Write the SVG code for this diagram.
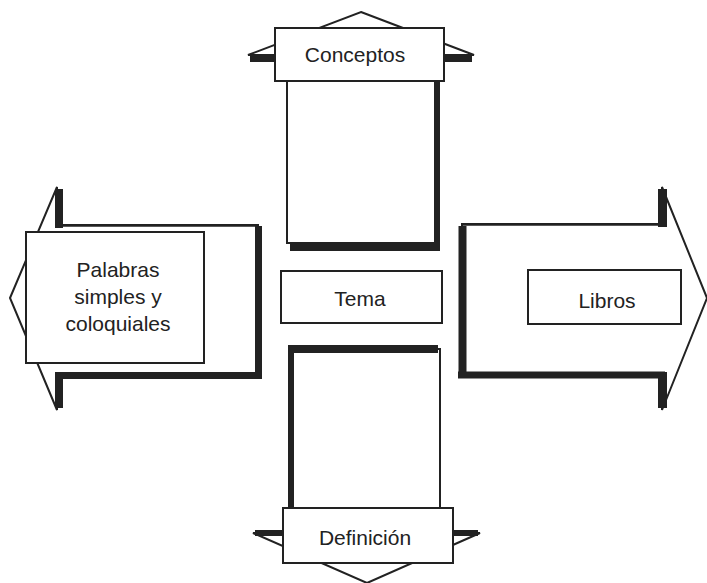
<svg xmlns="http://www.w3.org/2000/svg" width="707" height="583" viewBox="0 0 707 583">
<style>
.outline{fill:#fff;stroke:#222;stroke-width:2;stroke-linejoin:miter}
.thick{fill:none;stroke:#222;stroke-linecap:butt}
.box{fill:#fff;stroke:#222;stroke-width:2}
.lbl{font-family:"Liberation Sans",Arial,sans-serif;font-size:21px;fill:#222;text-anchor:middle}
</style>
<rect width="707" height="583" fill="#fff"/>
<g id="connectors">
  <g id="arrow-up">
    <path class="outline" d="M361,12 L474,55 L437,55 L437,243 L287,243 L287,55 L248,55 Z"/>
    <path class="thick" stroke-width="7" d="M250,58.5 H287 M437,58.5 H472"/>
    <path class="thick" stroke-width="6" d="M437,55 V251"/>
    <path class="thick" stroke-width="8" d="M290,247 H440"/>
  </g>
  <g id="arrow-left">
    <path class="outline" d="M10,298 L57,187 L57,225 L258,225 L258,375 L57,375 L57,410 Z"/>
    <path class="thick" stroke-width="2.5" d="M59,225.5 H258"/>
    <path class="thick" stroke-width="8" d="M59,189 V228 M59,372 V408"/>
    <path class="thick" stroke-width="7" d="M258.5,226 V379"/>
    <path class="thick" stroke-width="7" d="M55,375.5 H262"/>
  </g>
  <g id="arrow-right">
    <path class="outline" d="M707,298 L662,187 L662,224 L462,224 L462,375 L662,375 L662,410 Z"/>
    <path class="thick" stroke-width="2.5" d="M462,224.5 H662"/>
    <path class="thick" stroke-width="8" d="M462.5,226 V378"/>
    <path class="thick" stroke-width="7" d="M458,375 H665"/>
    <path class="thick" stroke-width="9" d="M662.5,189 V227 M662.5,372 V408"/>
  </g>
  <g id="arrow-down">
    <path class="outline" d="M290,349 L440,349 L440,533 L480,533 L367,583 L253,533 L290,533 Z"/>
    <path class="thick" stroke-width="8" d="M288,349 H438"/>
    <path class="thick" stroke-width="6" d="M291,345 V533"/>
    <path class="thick" stroke-width="6" d="M255,533 H290 M440,533 H478"/>
  </g>
</g>
<g id="node-conceptos">
  <rect class="box" x="275" y="28" width="169" height="53"/>
  <text class="lbl" x="355" y="62">Conceptos</text>
</g>
<g id="node-palabras">
  <rect class="box" x="26" y="232" width="178" height="131"/>
  <text class="lbl" x="118" y="277">Palabras</text>
  <text class="lbl" x="118" y="304">simples y</text>
  <text class="lbl" x="118" y="331">coloquiales</text>
</g>
<g id="node-tema">
  <rect class="box" x="281" y="271" width="161" height="52"/>
  <text class="lbl" x="360" y="306">Tema</text>
</g>
<g id="node-libros">
  <rect class="box" x="528" y="270" width="153" height="54"/>
  <text class="lbl" x="607" y="308">Libros</text>
</g>
<g id="node-definicion">
  <rect class="box" x="283" y="508" width="170" height="55"/>
  <text class="lbl" x="365" y="545">Definición</text>
</g>
</svg>
